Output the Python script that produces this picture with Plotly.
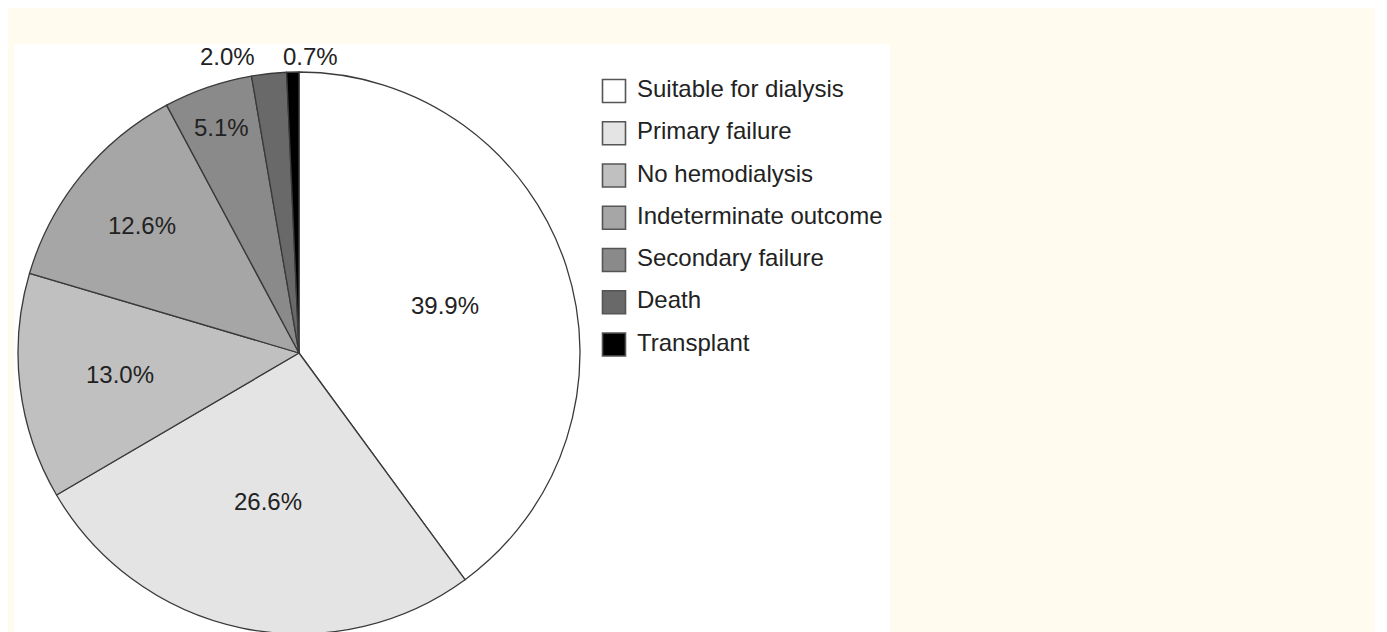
import math
import plotly.graph_objects as go

# data
labels = ["Suitable for dialysis", "Primary failure", "No hemodialysis",
          "Indeterminate outcome", "Secondary failure", "Death", "Transplant"]
values = [39.9, 26.6, 13.0, 12.6, 5.1, 2.0, 0.7]
colors = ["#ffffff", "#e4e4e4", "#c0c0c0", "#a6a6a6", "#8a8a8a", "#696969", "#000000"]
outside = [False, False, False, False, False, True, True]

W, H = 1387, 632
FONT = "Liberation Sans, Arial, sans-serif"
TXT = "#222222"

# pie geometry in figure pixels (page body adds an 8px offset)
cx, cy, R = 291, 345, 281
# how far out each inside label sits, as a share of the radius
label_r = [0.545, 0.54, 0.64, 0.72, 0.85, 0, 0]

fig = go.Figure()

fig.add_trace(go.Pie(
    labels=labels, values=values, sort=False, direction="clockwise", rotation=0,
    marker=dict(colors=colors, line=dict(color="#3a3a3a", width=1.3)),
    textinfo="none",
    domain=dict(x=[(cx - R) / W, (cx + R) / W], y=[(H - cy - R) / H, (H - cy + R) / H]),
    showlegend=False, hoverinfo="label+value",
))

# percentage labels at each slice's mid-angle
total = sum(values)
annotations = []
cum = 0
for v, o, rf in zip(values, outside, label_r):
    mid = (cum + v / 2) / total * 2 * math.pi
    cum += v
    font = dict(family=FONT, size=24, color=TXT)
    if not o:
        px = cx + rf * R * math.sin(mid)
        py = cy - rf * R * math.cos(mid)
        annotations.append(dict(x=px, y=(H - py) / H, xref="x", yref="paper",
                                text=f"{v:.1f}%", showarrow=False,
                                xanchor="center", yanchor="middle", font=font))
    else:
        # thin slices: label sits just above the rim
        mx = cx + R * math.sin(mid)
        left_side = math.sin(mid) < -0.05
        annotations.append(dict(x=mx - 12, y=(H - (cy - R) + 15) / H, xref="x", yref="paper",
                                text=f"{v:.1f}%", showarrow=False,
                                xanchor="right" if left_side else "left", yanchor="middle",
                                font=font))

# hand-drawn legend (squares + labels), one row per category
rows = list(range(len(labels)))
fig.add_trace(go.Scatter(
    x=[606] * len(labels), y=rows, mode="markers",
    marker=dict(symbol="square", size=23, color=colors, line=dict(color="#555555", width=1.6)),
    showlegend=False, hoverinfo="skip",
))
fig.add_trace(go.Scatter(
    x=[629] * len(labels), y=rows, mode="text", text=labels, textposition="middle right",
    textfont=dict(family=FONT, size=24, color=TXT),
    showlegend=False, hoverinfo="skip",
))

row_h = 42.25
top = -83 / row_h
fig.update_layout(
    width=W, height=H,
    margin=dict(l=0, r=0, t=0, b=0),
    paper_bgcolor="#ffffff", plot_bgcolor="rgba(0,0,0,0)",
    xaxis=dict(range=[0, W], domain=[0, 1], visible=False, fixedrange=True),
    yaxis=dict(range=[top + H / row_h, top], domain=[0, 1], visible=False, fixedrange=True),
    annotations=annotations,
    shapes=[
        # cream page panel
        dict(type="rect", xref="paper", yref="paper", x0=0, x1=1367 / W, y0=0, y1=1,
             fillcolor="#fffcef", line=dict(width=0), layer="below"),
        # white figure panel
        dict(type="rect", xref="paper", yref="paper", x0=6 / W, x1=882 / W, y0=0, y1=(H - 36) / H,
             fillcolor="#ffffff", line=dict(width=0), layer="below"),
    ],
)

fig.write_html("out.html")
